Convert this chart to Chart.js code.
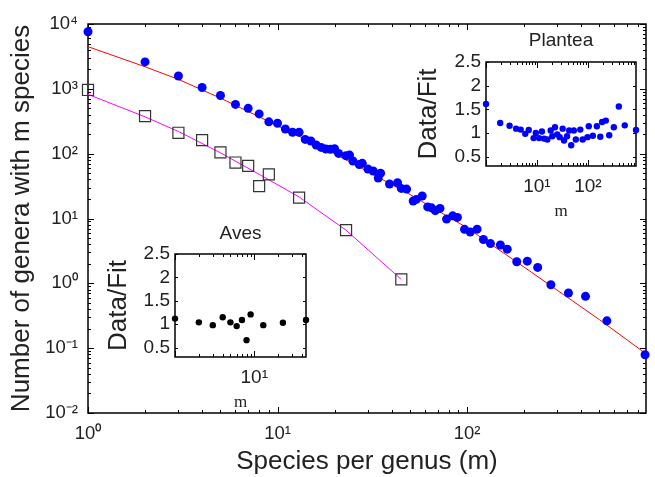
<!DOCTYPE html>
<html><head><meta charset="utf-8">
<script src="https://cdn.jsdelivr.net/npm/chart.js@4.4.0/dist/chart.umd.min.js"></script>
<style>
html,body{margin:0;padding:0;background:#fff;}
#wrap{position:relative;width:655px;height:477px;}
canvas{position:absolute;}
</style></head><body>
<div id="wrap">
<canvas id="main" width="655" height="477" style="left:0;top:0"></canvas>
<canvas id="aves" width="215" height="195" style="left:100px;top:222px"></canvas>
<canvas id="plant" width="245" height="196" style="left:405px;top:28px"></canvas>
</div>
<script>
// ── data ──────────────────────────────────────────────────────────────
const plantM = [1,2,3,4,5,6,7,8,9,10,11,12,13,14,15,16,17,18,19,20,21,23,24,25,27,28,30,32,34,35,
  39,43,45,48,52,54,58,62,65,68,72,78,84,89,97,104,113,122,133,150,163,183,208,236,277,343,422,547,870];
const plantN = [7600,2600,1580,1050,790,575,500,410,310,295,240,214,214,166,157,136,125,118,117,119,101,93,95,77,68,71,58,54,42,50,
  34,35.6,29.1,28.4,18.6,19.7,22.2,15.1,14.6,13.2,14.3,9.8,11,10.4,6.8,6.2,6.85,4.75,4.1,3.9,3.37,2.15,2.2,1.76,0.95,0.71,0.63,0.264,0.079];

const plantFitM = [1,2,3,5,10,20,50,100,200,500,880];
const plantFitN = [4470,2190,1400,720,270,100,23.5,7.2,1.78,0.275,0.082];

const avesM = [1,2,3,4,5,6,7,8,9,13,23,45];
const avesN = [960,380,210,162,105,73,65,31.6,48,21,6.6,1.15];

const avesFitM = [1,2,3,5,8,13,23,45];
const avesFitN = [822,370,220,103,48,21.5,6.6,1.15];

// inset ratios (Data/Fit)
const avesRatio = [1.12,1.04,0.98,1.15,1.04,0.96,1.09,0.66,1.21,0.98,1.03,1.09];
const plantRatioM = [1,1.9,2.9,3.9,4.8,5.9,6.9,8.6,9.5,11,12.5,13.8,16,18.6,20,22.6,25,28,32,34,39,43,47,53,58,71,79,
  98,104,125,150,175,190,225,262,323,405,530,880];
const plantRatio = [1.61,1.21,1.15,1.09,1.07,0.98,1.06,0.89,1.0,0.89,1.03,0.88,0.86,1.05,0.93,1.12,0.97,0.91,1.09,0.84,0.93,1.05,0.74,1.05,0.86,1.07,0.86,
  0.91,1.14,0.94,1.14,0.92,1.23,1.26,0.95,1.12,1.56,1.16,1.06];

const mainXTicks = [1,10,100];
const mainYTicks = [0.01,0.1,1,10,100,1000,10000];
const ratioTicks = [0.5,1,1.5,2,2.5];

// ── helpers ──────────────────────────────────────────────────────────
const TXT = '#222';
const SANS = "'Liberation Sans', Arial, Helvetica, sans-serif";
const sup = {'-':'\u207B','0':'\u2070','1':'\u00B9','2':'\u00B2','3':'\u00B3','4':'\u2074'};
const powLabel = v => {
  const e = Math.round(Math.log10(v));
  if (Math.abs(Math.log10(v) - e) > 1e-6) return '';
  return '10' + String(e).split('').map(c => sup[c]).join('');
};
const pts = (xs, ys) => xs.map((x, i) => ({ x, y: ys[i] }));
const logMinor = (lo, hi) => {
  const out = [];
  for (let d = Math.pow(10, Math.floor(Math.log10(lo))); d <= hi; d *= 10)
    for (let k = 1; k <= 9; k++) { const v = +(k * d).toPrecision(6); if (v >= lo && v <= hi) out.push({ v, len: k === 1 ? 6 : 3 }); }
  return out;
};
const fixTicks = vals => scale => { scale.ticks = vals.map(v => ({ value: v })); };

// box + inside tick marks on all four sides
const frame = {
  id: 'frame',
  beforeDatasetsDraw(chart, args, o) {
    const { ctx, chartArea: a, scales: { x, y } } = chart;
    ctx.save();
    ctx.strokeStyle = '#000';
    ctx.lineWidth = 1;
    ctx.beginPath();
    (o.xt || []).forEach(t => {
      const p = Math.round(x.getPixelForValue(t.v)) + 0.5;
      ctx.moveTo(p, a.bottom); ctx.lineTo(p, a.bottom - t.len);
      ctx.moveTo(p, a.top); ctx.lineTo(p, a.top + t.len);
    });
    (o.yt || []).forEach(t => {
      const p = Math.round(y.getPixelForValue(t.v)) + 0.5;
      ctx.moveTo(a.left, p); ctx.lineTo(a.left + t.len, p);
      ctx.moveTo(a.right, p); ctx.lineTo(a.right - t.len, p);
    });
    ctx.stroke();
    ctx.lineWidth = 1.5;
    ctx.strokeRect(a.left, a.top, a.right - a.left, a.bottom - a.top);
    ctx.restore();
  }
};

// ── main chart ───────────────────────────────────────────────────────
new Chart(document.getElementById('main'), {
  type: 'scatter',
  data: {
    datasets: [
      { label: 'Plantea', data: pts(plantM, plantN), backgroundColor: '#0000ff', borderWidth: 0, pointRadius: 4.5, clip: false },
      { label: 'Aves', data: pts(avesM, avesN), pointStyle: 'rect', backgroundColor: 'transparent', borderColor: '#333', borderWidth: 1.2, pointRadius: 7.8, clip: false },
      { label: 'Plantea fit', data: pts(plantFitM, plantFitN), showLine: true, borderColor: '#ff0000', borderWidth: 1, pointRadius: 0 },
      { label: 'Aves fit', data: pts(avesFitM, avesFitN), showLine: true, borderColor: '#ff00ff', borderWidth: 1, pointRadius: 0 }
    ]
  },
  options: {
    responsive: false, animation: false, devicePixelRatio: 1,
    layout: { padding: { top: 24, right: 2, left: 0, bottom: 0 } },
    plugins: {
      legend: { display: false }, tooltip: { enabled: false },
      frame: { xt: logMinor(1, 880), yt: logMinor(0.01, 10000) }
    },
    scales: {
      x: {
        type: 'logarithmic', min: 1, max: 880,
        afterBuildTicks: fixTicks(mainXTicks),
        afterFit: s => { s.height = 64; },
        grid: { display: false, drawTicks: false }, border: { display: false },
        ticks: { color: TXT, font: { family: SANS, size: 18.5 }, padding: 10, maxRotation: 0, autoSkip: false, callback: v => powLabel(v) },
        title: { display: true, text: 'Species per genus (m)', color: TXT, font: { family: SANS, size: 26 }, padding: { top: 0, bottom: 0 } }
      },
      y: {
        type: 'logarithmic', min: 0.01, max: 10000,
        afterBuildTicks: fixTicks(mainYTicks),
        afterFit: s => { s.width = 88; },
        grid: { display: false, drawTicks: false }, border: { display: false },
        ticks: { color: TXT, font: { family: SANS, size: 18.5 }, padding: 10, autoSkip: false, callback: v => powLabel(v) },
        title: { display: true, text: 'Number of genera with m species', color: TXT, font: { family: SANS, size: 26 }, padding: { top: 6 } }
      }
    }
  },
  plugins: [frame]
});

// ── insets ───────────────────────────────────────────────────────────
function inset(id, title, xs, ys, color, xMax, xLabels, sizes) {
  new Chart(document.getElementById(id), {
    type: 'scatter',
    data: { datasets: [{ label: title, data: pts(xs, ys), backgroundColor: color, borderWidth: 0, pointRadius: 3.2, clip: false }] },
    options: {
      responsive: false, animation: false, devicePixelRatio: 1,
      layout: { padding: { top: 0, right: sizes.right, left: 0, bottom: 0 } },
      plugins: {
        legend: { display: false }, tooltip: { enabled: false },
        title: { display: true, fullSize: false, text: title, color: TXT, font: { family: SANS, size: 19, weight: 'normal' }, padding: sizes.titlePad },
        frame: { xt: logMinor(1, xMax), yt: ratioTicks.map(v => ({ v, len: 3 })) }
      },
      scales: {
        x: {
          type: 'logarithmic', min: 1, max: xMax,
          afterBuildTicks: fixTicks(xLabels),
          afterFit: s => { s.height = sizes.xh; },
          grid: { display: false, drawTicks: false }, border: { display: false },
          ticks: { color: TXT, font: { family: SANS, size: 19 }, padding: 9, maxRotation: 0, autoSkip: false, callback: v => powLabel(v) },
          title: { display: true, text: 'm', color: TXT, font: { family: "'Liberation Serif', 'Times New Roman', serif", size: 17 }, padding: { top: 0, bottom: sizes.mPad } }
        },
        y: {
          min: 0.3, max: 2.5,
          afterBuildTicks: fixTicks(ratioTicks),
          afterFit: s => { s.width = sizes.yw; },
          grid: { display: false, drawTicks: false }, border: { display: false },
          ticks: { color: TXT, font: { family: SANS, size: 19 }, padding: 5, autoSkip: false, callback: v => String(v) },
          title: { display: true, text: 'Data/Fit', color: TXT, font: { family: SANS, size: 26 }, padding: { top: sizes.dfPad } }
        }
      }
    },
    plugins: [frame]
  });
}

inset('aves', 'Aves', avesM, avesRatio, '#000', 45, [10],
  { right: 9, titlePad: { top: 0, bottom: 9.2 }, xh: 60, yw: 75, mPad: 3.8, dfPad: 3 });
inset('plant', 'Plantea', plantRatioM, plantRatio, '#0000ff', 880, [10, 100],
  { right: 14, titlePad: { top: 1.3, bottom: 9.9 }, xh: 58, yw: 81, mPad: 2.1, dfPad: 8 });
</script>
</body></html>
